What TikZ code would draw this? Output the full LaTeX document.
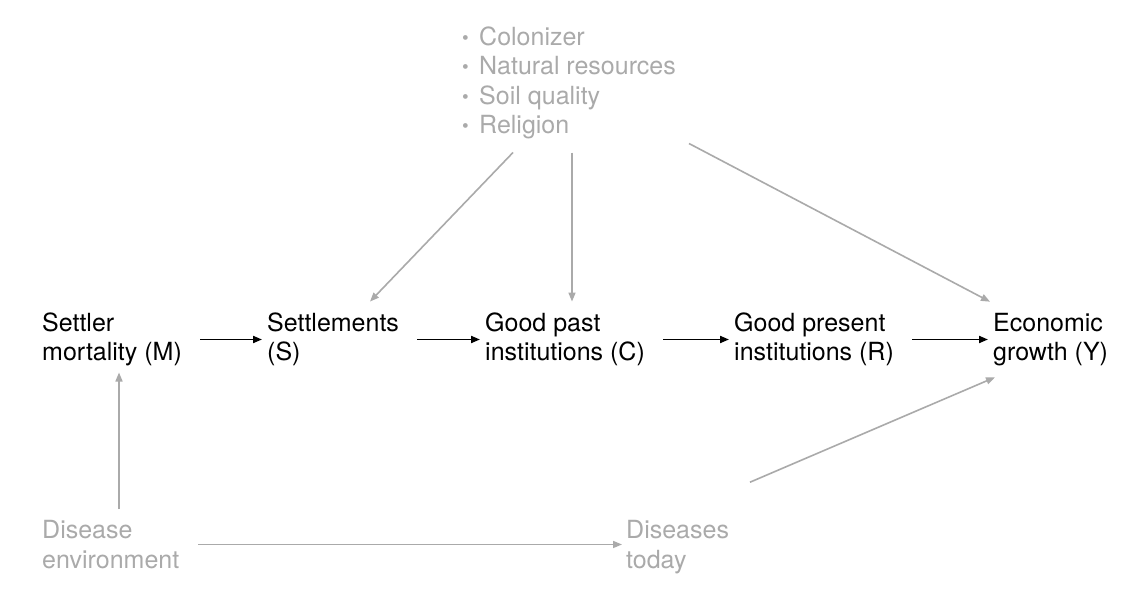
\documentclass[tikz,border=0pt]{standalone}
\usepackage{fontspec}
\setmainfont{TeX Gyre Heros}
\usetikzlibrary{arrows.meta}
\definecolor{lgrey}{HTML}{AAAAAA}
\newcommand{\itm}{\makebox[17pt][l]{\fontsize{19}{19}\selectfont\raisebox{1pt}{\textbullet}}}
\tikzset{
 lbl/.style={align=left,inner sep=0pt,anchor=west,font=\fontsize{25}{29.5}\selectfont},
 greylbl/.style={lbl,text=lgrey},
 arrow/.style={-{Triangle[length=9pt,width=7pt]},line width=1.9pt,draw=black,shorten <=18pt,shorten >=5pt},
 greyarrow/.style={-{Triangle[length=9pt,width=7pt]},line width=1.6pt,draw=lgrey}
}

\begin{document}
\begin{tikzpicture}[x=1pt,y=1pt]
 \useasboundingbox[fill=white] (0,0) rectangle (1144,596);
 \node[lbl] (mort) at (42,256.5) {Settler\\mortality (M)};
 \node[lbl] (settle) at (267,256.5) {Settlements\\(S)};
 \node[lbl] (past) at (485,256.5) {Good past\\institutions (C)};
 \node[lbl] (present) at (734,256.5) {Good present\\institutions (R)};
 \node[lbl] (growth) at (993,256.5) {Economic\\growth (Y)};
 \node[greylbl] (conf) at (462,513) {\itm Colonizer\\\itm Natural resources\\\itm Soil quality\\\itm Religion};
 \node[greylbl] (env) at (42,51.5) {Disease\\environment};
 \node[greylbl] (today) at (626,49) {Diseases\\today};
 \draw[arrow] (mort.east) -- (settle.west);
 \draw[arrow] (settle.east) -- (past.west);
 \draw[arrow] (past.east) -- (present.west);
 \draw[arrow] (present.east) -- (growth.west);
 \draw[greyarrow] ([shift={(51,-13)}]conf.south west) -- ([shift={(103,11)}]settle.north west);
 \draw[greyarrow] ([shift={(110,-13)}]conf.south west) -- ([shift={(87,11)}]past.north west);
 \draw[greyarrow] ([shift={(227,-4)}]conf.south west) -- ([shift={(-3,11)}]growth.north west);
 \draw[greyarrow] ([shift={(77,11)}]env.north west) -- ([shift={(77,-6)}]mort.south west);
 \draw[greyarrow,shorten <=19pt,shorten >=4pt] (env.east) -- (env.east -| today.west);
 \draw[greyarrow] ([shift={(124,38)}]today.north west) -- ([shift={(2,-11)}]growth.south west);
\end{tikzpicture}
\end{document}
